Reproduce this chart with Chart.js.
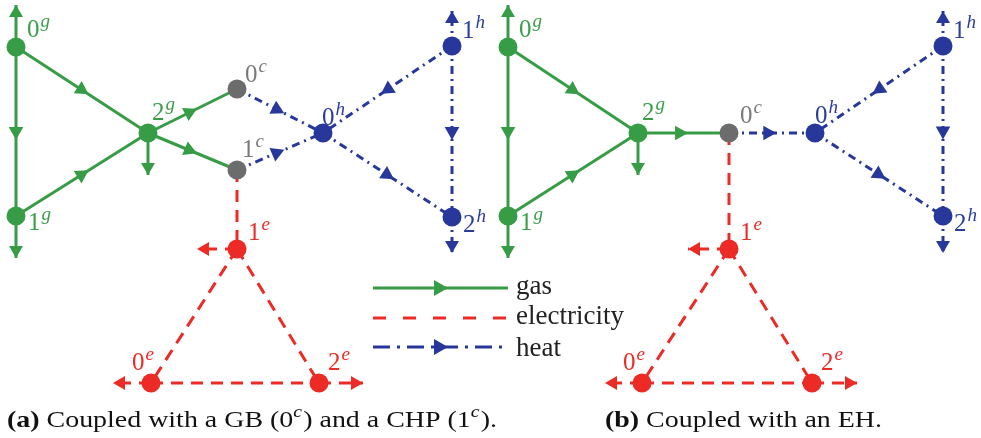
<!DOCTYPE html>
<html><head><meta charset="utf-8">
<script src="https://cdn.jsdelivr.net/npm/chart.js@4"></script>
<style>html,body{margin:0;padding:0;background:#fff}#wrap{width:981px;height:438px;position:relative}</style>
</head><body><div id="wrap"><canvas id="c"></canvas></div>
<script>
// ---------- data ----------
const nodeNamesA = ['0g','1g','2g','0c','1c','0h','1h','2h','0e','1e','2e'];
const nodeXA     = [16, 16, 148, 237, 237, 323, 452, 452, 151, 237, 319];
const nodeYA     = [47, 216, 133, 89, 170, 133, 46, 217, 383, 249, 383];
const nodeNamesB = ['0g','1g','2g','0c','0h','1h','2h','0e','1e','2e'];
const nodeXB     = [508, 508, 638, 729, 815, 943, 943, 642, 729, 812];
const nodeYB     = [47, 216, 133, 133, 133, 46, 216, 383, 249, 383];

const edgeFromA = ['0g','0g','1g','2g','2g','0c','1c','1h','0h','1h','1c','1e','1e','0e'];
const edgeToA   = ['1g','2g','2g','0c','1c','0h','0h','0h','2h','2h','1e','0e','2e','2e'];
const edgeTypeA = ['gas','gas','gas','gas','gas','heat','heat','heat','heat','heat','elec','elec','elec','elec'];
const edgeFromB = ['0g','0g','1g','2g','0c','1h','0h','1h','0c','1e','1e','0e'];
const edgeToB   = ['1g','2g','2g','0c','0h','0h','2h','2h','1e','0e','2e','2e'];
const edgeTypeB = ['gas','gas','gas','gas','heat','heat','heat','heat','elec','elec','elec','elec'];

// terminal flows (injection/withdrawal arrows): node -> end point
const stubNodeA = ['0g','1g','2g','1h','2h','1e','0e','2e'];
const stubEndXA = [16, 16, 148, 452, 452, 197, 113, 363];
const stubEndYA = [5, 258, 175, 11, 253, 249, 383, 383];
const stubNodeB = ['0g','1g','2g','1h','2h','1e','0e','2e'];
const stubEndXB = [508, 508, 638, 943, 943, 688, 605, 857];
const stubEndYB = [5, 258, 175, 11, 253, 249, 383, 383];

const legendLabels = ['gas','electricity','heat'];
const legendTypes  = ['gas','elec','heat'];
const captionA = ['(a)', ' Coupled with a GB (0', 'c', ') and a CHP (1', 'c', ').'];
const captionB = ['(b)', ' Coupled with an EH.'];

// ---------- styles ----------
const COL = {g:'#379c46', c:'#6c6c6c', h:'#27389a', e:'#ec2a26'};
const LABCOL = {g:'#3a9e48', c:'#7a7a7a', h:'#2b3c9c', e:'#ec2a26'};
const STYLE = {
  gas:  {color: COL.g, dash: [], arrow: true},
  elec: {color: COL.e, dash: [12, 8], arrow: false},
  heat: {color: COL.h, dash: [8, 5, 2, 5], arrow: true}
};
// label offsets (layout) relative to node
const labDxA = [11, 12, 4, 8, 5, -1, 10, 11, -19, 11, 9];
const labDyA = [-10, 14, -13, -7, -13, -8, -8, 15, -13, -9, -13];
const labDxB = [11, 12, 4, 11, 0, 10, 11, -19, 11, 9];
const labDyB = [-10, 14, -13, -10, -10, -8, 15, -13, -9, -13];

function lookup(names, xs, ys, n) { const i = names.indexOf(n); return {x: xs[i], y: ys[i]}; }

const datasets = [];
const arrowList = [];

function buildPanel(names, xs, ys, eF, eT, eTy, sN, sX, sY) {
  datasets.push({
    data: names.map((n, i) => ({x: xs[i], y: ys[i]})),
    pointRadius: 9.5, pointHoverRadius: 9.5, borderWidth: 0,
    pointBackgroundColor: names.map(n => COL[n[1]]),
    pointBorderColor: names.map(n => COL[n[1]]),
    showLine: false, order: 0, clip: false
  });
  eF.forEach((f, i) => {
    const a = lookup(names, xs, ys, f), b = lookup(names, xs, ys, eT[i]);
    const st = STYLE[eTy[i]];
    datasets.push({
      data: [a, b], showLine: true, borderColor: st.color, borderWidth: 3,
      borderDash: st.dash, borderCapStyle: 'butt', pointRadius: 0, order: 1, clip: false
    });
    if (st.arrow) arrowList.push({a, b, t: 0.55, color: st.color});
  });
  sN.forEach((n, i) => {
    const a = lookup(names, xs, ys, n), b = {x: sX[i], y: sY[i]};
    const type = n[1] === 'g' ? 'gas' : (n[1] === 'h' ? 'heat' : 'elec');
    const st = STYLE[type];
    datasets.push({
      data: [a, b], showLine: true, borderColor: st.color, borderWidth: 3,
      borderDash: st.dash, borderCapStyle: 'butt', pointRadius: 0, order: 1, clip: false
    });
    arrowList.push({a, b, t: 1, color: st.color, stub: true});
  });
}
buildPanel(nodeNamesA, nodeXA, nodeYA, edgeFromA, edgeToA, edgeTypeA, stubNodeA, stubEndXA, stubEndYA);
buildPanel(nodeNamesB, nodeXB, nodeYB, edgeFromB, edgeToB, edgeTypeB, stubNodeB, stubEndXB, stubEndYB);

function tri(ctx, x, y, ang, len, half, color) {
  ctx.save();
  ctx.translate(x, y); ctx.rotate(ang);
  ctx.beginPath();
  ctx.moveTo(0, 0); ctx.lineTo(-len, -half); ctx.lineTo(-len, half); ctx.closePath();
  ctx.fillStyle = color; ctx.fill();
  ctx.restore();
}
const SERIF = '"Liberation Serif", "DejaVu Serif", serif';
function mathLabel(ctx, x, y, base, sup, color, size) {
  ctx.fillStyle = color;
  ctx.textBaseline = 'alphabetic'; ctx.textAlign = 'left';
  ctx.font = size + 'px ' + SERIF;
  ctx.fillText(base, x, y);
  const w = ctx.measureText(base).width;
  ctx.font = 'italic ' + Math.round(size * 0.74) + 'px ' + SERIF;
  ctx.fillText(sup, x + w + 1, y - size * 0.42);
}

const overlay = {
  id: 'overlay',
  afterDatasetsDraw(chart) {
    const ctx = chart.ctx, xs = chart.scales.x, ys = chart.scales.y;
    arrowList.forEach(ar => {
      const ax = xs.getPixelForValue(ar.a.x), ay = ys.getPixelForValue(ar.a.y);
      const bx = xs.getPixelForValue(ar.b.x), by = ys.getPixelForValue(ar.b.y);
      const px = ax + (bx - ax) * ar.t, py = ay + (by - ay) * ar.t;
      const ang = Math.atan2(by - ay, bx - ax);
      if (ar.stub) tri(ctx, px, py, ang, 12, 7, ar.color);
      else tri(ctx, px, py, ang, 13, 7.3, ar.color);
    });
    const drawLabs = (names, xsA, ysA, dx, dy) => names.forEach((n, i) => {
      const px = xs.getPixelForValue(xsA[i]) + dx[i], py = ys.getPixelForValue(ysA[i]) + dy[i];
      mathLabel(ctx, px, py, n[0], n[1], LABCOL[n[1]], 25);
    });
    drawLabs(nodeNamesA, nodeXA, nodeYA, labDxA, labDyA);
    drawLabs(nodeNamesB, nodeXB, nodeYB, labDxB, labDyB);

    // legend
    const lx0 = 373, lx1 = 508, ly = [288, 318, 347], ty = [294, 324, 356];
    legendTypes.forEach((t, i) => {
      const st = STYLE[t];
      ctx.save();
      ctx.strokeStyle = st.color; ctx.lineWidth = 3; ctx.lineCap = 'butt';
      ctx.setLineDash(t === 'elec' ? [13, 17] : (t === 'heat' ? [17, 7, 3, 7] : []));
      ctx.beginPath(); ctx.moveTo(lx0, ly[i]); ctx.lineTo(lx1, ly[i]); ctx.stroke();
      ctx.restore();
      if (st.arrow) tri(ctx, 448, ly[i], 0, 14, 8, st.color);
      ctx.fillStyle = '#222'; ctx.font = '27px ' + SERIF; ctx.textAlign = 'left'; ctx.textBaseline = 'alphabetic';
      ctx.fillText(legendLabels[i], 516, ty[i]);
    });

    // captions (CM-like width via horizontal stretch)
    const capWidth = (parts) => {
      let w = 0;
      parts.forEach((p, i) => {
        ctx.font = i === 0 ? 'bold 24px ' + SERIF : (p === 'c' ? 'italic 17px ' + SERIF : '24px ' + SERIF);
        w += ctx.measureText(p).width + (p === 'c' ? 1 : 0);
      });
      return w;
    };
    const k = 490 / capWidth(captionA);
    const cap = (parts, x, y) => {
      ctx.save();
      ctx.translate(x, y); ctx.scale(k, 1);
      let cx = 0;
      parts.forEach((p, i) => {
        let yy = 0;
        if (i === 0) ctx.font = 'bold 24px ' + SERIF;
        else if (p === 'c') { ctx.font = 'italic 17px ' + SERIF; yy = -10; }
        else ctx.font = '24px ' + SERIF;
        ctx.fillStyle = '#111'; ctx.textAlign = 'left'; ctx.textBaseline = 'alphabetic';
        ctx.fillText(p, cx, yy);
        cx += ctx.measureText(p).width + (p === 'c' ? 1 : 0);
      });
      ctx.restore();
    };
    cap(captionA, 7, 427);
    cap(captionB, 605, 427);
  }
};

new Chart(document.getElementById('c'), {
  type: 'scatter',
  data: {datasets},
  options: {
    responsive: true, maintainAspectRatio: false, animation: false, events: [],
    layout: {padding: 0, autoPadding: false},
    plugins: {legend: {display: false}, tooltip: {enabled: false}},
    scales: {
      x: {type: 'linear', min: 0, max: 981, display: false},
      y: {type: 'linear', min: 0, max: 438, reverse: true, display: false}
    }
  },
  plugins: [overlay]
});
</script>
</body></html>
